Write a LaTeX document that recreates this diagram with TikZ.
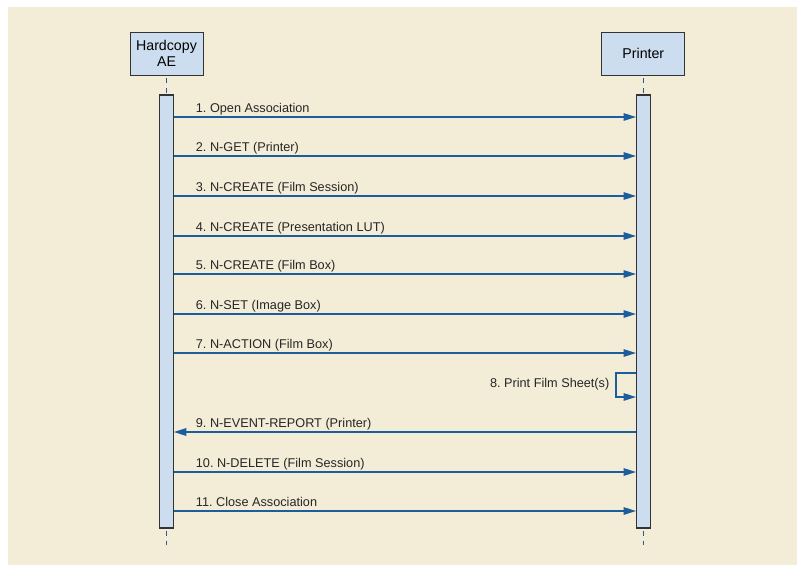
\documentclass[tikz,border=0pt]{standalone}
\usepackage{fontspec}
\setmainfont{Liberation Sans}
\usetikzlibrary{arrows.meta}
\definecolor{bgbeige}{HTML}{F3ECD7}
\definecolor{boxblue}{HTML}{CCDDEF}
\definecolor{linkblue}{HTML}{1B5E9B}
\definecolor{edgegray}{HTML}{333333}
\frenchspacing
\tikzset{
  head/.style={draw=edgegray,line width=1pt,fill=boxblue,minimum width=73pt,minimum height=43pt,inner sep=0pt,align=center,font=\fontsize{14.2}{16.7}\selectfont},
  bar/.style={draw=edgegray,line width=1.1pt,fill=boxblue,minimum width=13.5pt,minimum height=433pt,inner sep=0pt},
  life/.style={draw=linkblue,line width=1.6pt,dash pattern=on 5.3pt off 4.7pt,dash phase=-2pt},
  msg/.style={draw=linkblue,line width=1.5pt,-{Triangle[length=12.5pt,width=7.5pt]}},
  lbl/.style={inner sep=0pt,font=\fontsize{12.7}{14}\selectfont,text=black!85}
}
\begin{document}
\begin{tikzpicture}[x=1pt,y=-1pt]
\useasboundingbox (0,0) rectangle (797,565);
\fill[white] (0,0) rectangle (797,565);
\fill[bgbeige] (8,7) rectangle (797,565);
% heads
\node[head] (hA) at (166.5,53.5) {Hardcopy\\AE};
\node[head,minimum width=83pt] (hB) at (643.3,53.5) {Printer};
% activation bars
\node[bar] (bA) at (166.5,311.5) {};
\node[bar] (bB) at (643.3,311.5) {};
% lifelines
\coordinate (eA) at (166.5,545);
\coordinate (eB) at (643.3,545);
\draw[life] (hA.south) -- (bA.north);
\draw[life] (hB.south) -- (bB.north);
\draw[life] (bA.south) -- (eA);
\draw[life] (bB.south) -- (eB);
% messages
\foreach \y/\t in {117/{1. Open Association},
                   156/{2. N-GET (Printer)},
                   196/{3. N-CREATE (Film Session)},
                   236/{4. N-CREATE (Presentation LUT)},
                   274/{5. N-CREATE (Film Box)},
                   314/{6. N-SET (Image Box)},
                   353/{7. N-ACTION (Film Box)},
                   472/{10. N-DELETE (Film Session)},
                   511/{11. Close Association}}{
  \draw[msg] (bA.east |- 0,\y) -- (bB.west |- 0,\y);
  \node[lbl,anchor=base west] at (195.7,\y-4.2) {\t};
}
% 9 return
\draw[msg] (bB.west |- 0,432) -- (bA.east |- 0,432);
\node[lbl,anchor=base west] (m9) at (195.7,427.8) {9. N-EVENT-REPORT (Printer)};
% 8 self message
\coordinate (s1) at (616,373);
\coordinate (s2) at (616,397);
\draw[msg] (bB.west |- s1) -- (s1) -- (s2) -- (bB.west |- s2);
\node[lbl,anchor=base east] (m8) at (609.5,387.3) {8. Print Film Sheet(s)};
\end{tikzpicture}
\end{document}
